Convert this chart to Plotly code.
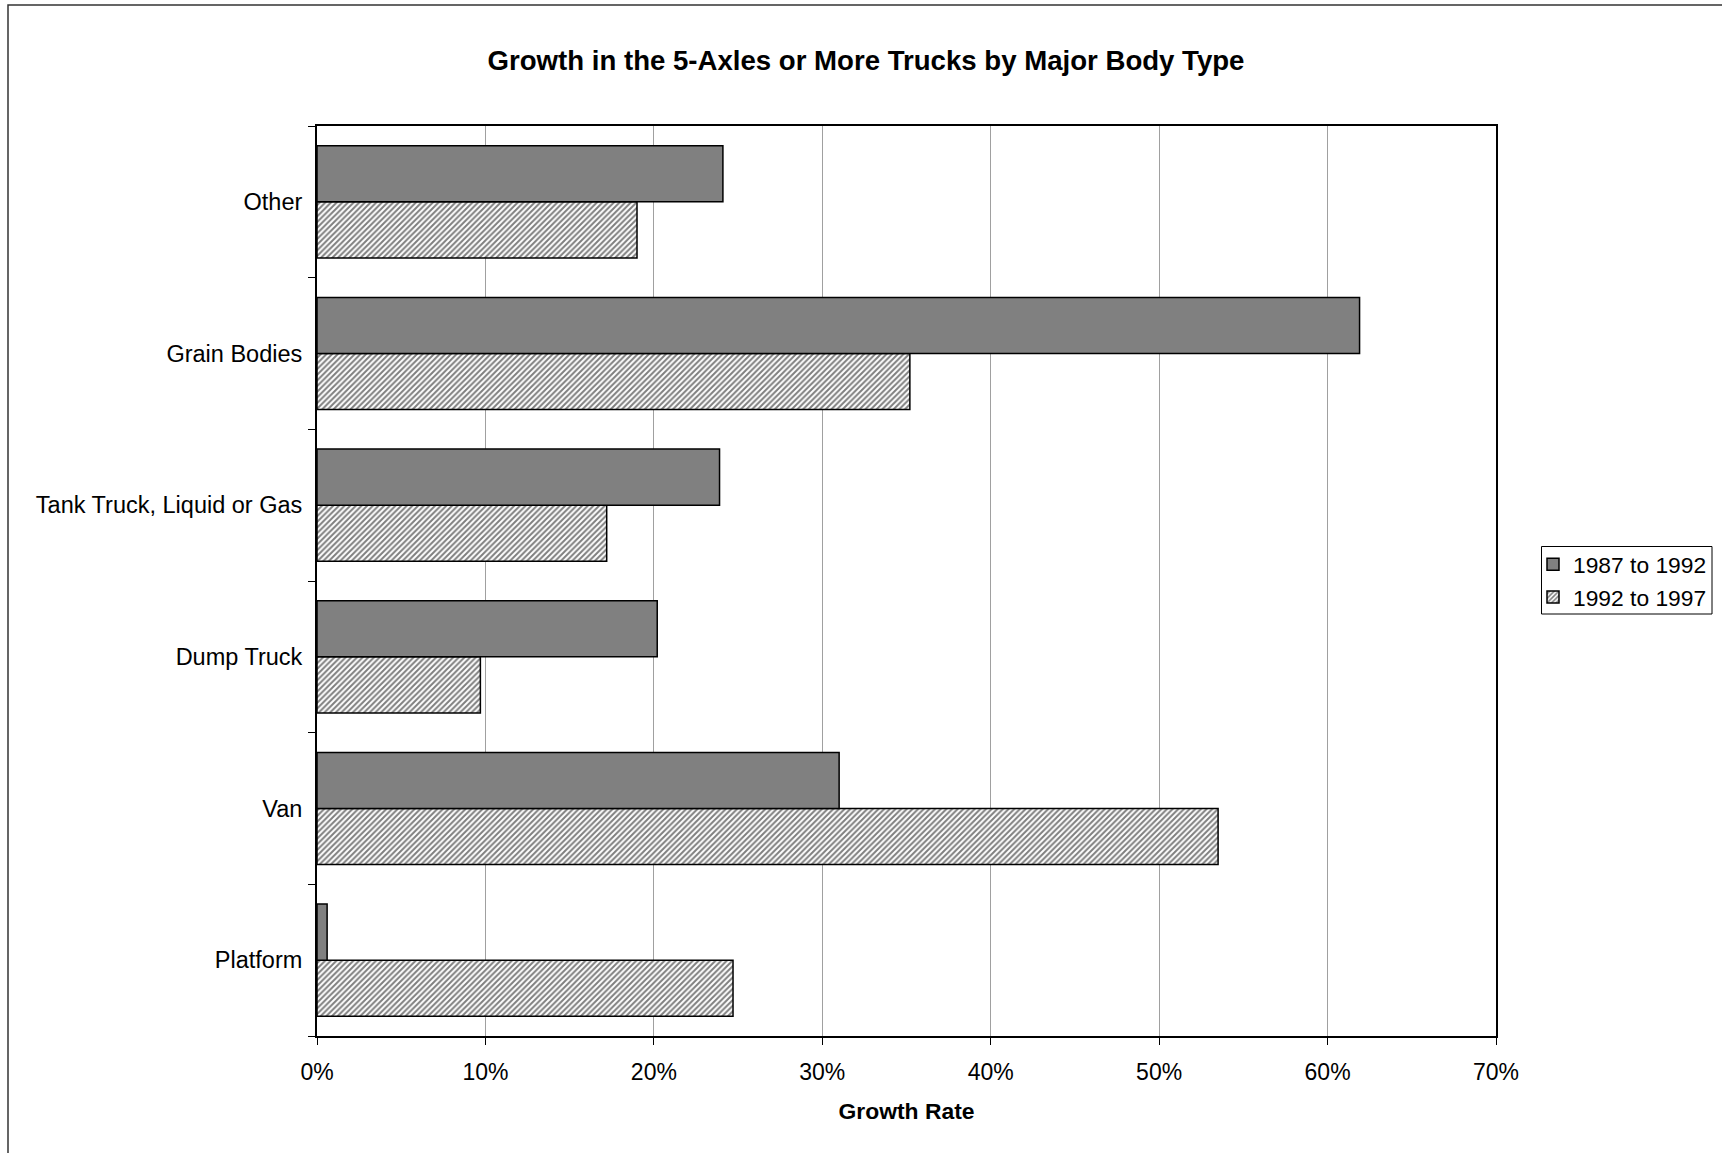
import plotly.graph_objects as go

categories = ["Platform", "Van", "Dump Truck", "Tank Truck, Liquid or Gas", "Grain Bodies", "Other"]
growth_1987_1992 = [0.006, 0.310, 0.202, 0.239, 0.619, 0.241]
growth_1992_1997 = [0.247, 0.535, 0.097, 0.172, 0.352, 0.190]
x_ticks = [0, 0.1, 0.2, 0.3, 0.4, 0.5, 0.6, 0.7]
x_tick_labels = ["0%", "10%", "20%", "30%", "40%", "50%", "60%", "70%"]

FONT = "Liberation Sans, Arial, sans-serif"
W, H = 1722, 1153
L, R, T, B = 317, 1496, 126, 1036

fig = go.Figure()
fig.add_trace(go.Bar(
    y=categories, x=growth_1992_1997, orientation="h", name="1992 to 1997",
    marker=dict(color="white", line=dict(color="black", width=1.5),
                pattern=dict(shape="/", fgcolor="black", bgcolor="white", size=4, solidity=0.5)),
    legendrank=2,
))
fig.add_trace(go.Bar(
    y=categories, x=growth_1987_1992, orientation="h", name="1987 to 1992",
    marker=dict(color="#808080", line=dict(color="black", width=1.5)),
    legendrank=1,
))

pw = R - L
ph = B - T
def px_x(px):
    return (px - L) / pw
def px_y(py):
    return 1 - (py - T) / ph

fig.update_layout(
    width=W, height=H,
    margin=dict(l=L, r=W - R, t=T, b=H - B, autoexpand=False),
    paper_bgcolor="white", plot_bgcolor="white",
    barmode="group", bargap=0.26, bargroupgap=0,
    font=dict(family=FONT, size=23, color="black"),
    title=dict(text="<b>Growth in the 5-Axles or More Trucks by Major Body Type</b>",
               x=866 / W, xref="container", xanchor="center",
               y=1 - 60 / H, yref="container", yanchor="middle",
               font=dict(family=FONT, size=27.6, color="black")),
    legend=dict(x=px_x(1533), xanchor="left", y=px_y(543), yanchor="top",
                borderwidth=0, bgcolor="rgba(0,0,0,0)",
                font=dict(family=FONT, size=22.8), tracegroupgap=0,
                itemwidth=30),
    xaxis=dict(range=[0, 0.7], tickvals=x_ticks, ticktext=x_tick_labels,
               showgrid=True, gridcolor="#A0A0A0", gridwidth=1,
               showline=True, linecolor="black", linewidth=2, mirror=True,
               ticks="outside", ticklen=7, tickcolor="black", tickwidth=1,
               ticklabelstandoff=7, zeroline=False,
               tickfont=dict(size=23),
               title=dict(text="<b>Growth Rate</b>", standoff=19,
                          font=dict(family=FONT, size=22.9))),
    yaxis=dict(categoryorder="array", categoryarray=categories,
               showline=True, linecolor="black", linewidth=2, mirror=True,
               ticks="outside", ticklen=7, tickcolor="black", tickwidth=1,
               tickson="boundaries", showgrid=False, ticklabelstandoff=8,
               tickfont=dict(size=23.5)),
    shapes=[
        dict(type="rect", xref="paper", yref="paper",
             x0=px_x(8), x1=px_x(1740), y0=px_y(1170), y1=px_y(5),
             line=dict(color="#333333", width=1.5), fillcolor="rgba(0,0,0,0)",
             layer="below"),
        dict(type="rect", xref="paper", yref="paper",
             x0=px_x(1541.5), x1=px_x(1712), y0=px_y(614), y1=px_y(546.5),
             line=dict(color="black", width=1), fillcolor="rgba(0,0,0,0)",
             layer="above"),
    ],
)

fig.write_html("out.html")
